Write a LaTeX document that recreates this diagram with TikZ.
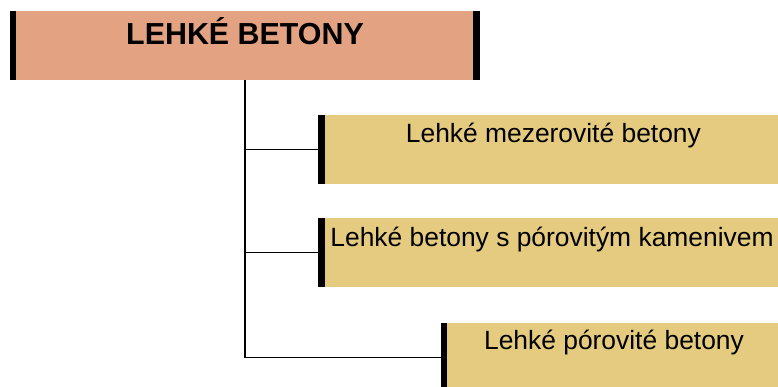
\documentclass[tikz,border=0pt]{standalone}
\usepackage{fontspec}
\setmainfont{Liberation Sans}
\definecolor{titlefill}{HTML}{E3A282}
\definecolor{subfill}{HTML}{E5CB7F}
\begin{document}
\begin{tikzpicture}[x=1pt,y=-1pt,
  titlebox/.style={fill=titlefill, draw=none, minimum width=463pt, minimum height=69pt, anchor=north west, inner sep=0pt},
  subbox/.style={fill=subfill, draw=none, minimum height=68.5pt, anchor=north west, inner sep=0pt},
  bar/.style={line width=6.5pt, draw=black},
  conn/.style={line width=1.7pt, draw=black},
  titletext/.style={anchor=base, inner sep=0pt, font=\fontsize{30.4}{34}\selectfont\bfseries},
  subtext/.style={anchor=base, inner sep=0pt, font=\fontsize{26.4}{30}\selectfont}]
\useasboundingbox (0,0) rectangle (778,387);
\node[titlebox] (top) at (13,11) {};
\node[subbox, minimum width=460pt] (b1) at (321.7,115) {};
\node[subbox, minimum width=460pt] (b2) at (321.7,218) {};
\node[subbox, minimum width=340pt] (b3) at (444,323) {};
% connectors
\draw[conn] (top.south) |- (b3.west);
\draw[conn] (top.south) |- (b1.west);
\draw[conn] (top.south) |- (b2.west);
% bars
\draw[bar] (top.north west) -- (top.south west);
\draw[bar] (top.north east) -- (top.south east);
\draw[bar] (b1.north west) -- (b1.south west);
\draw[bar] (b2.north west) -- (b2.south west);
\draw[bar] (b3.north west) -- (b3.south west);
% texts
\node[titletext] (t0) at (245,44.5) {LEHKÉ BETONY};
\node[subtext] (t1) at (553.4,142.5) {Lehké mezerovité betony};
\node[subtext] (t2) at (552,246.2) {Lehké betony s pórovitým kamenivem};
\node[subtext] (t3) at (614,349.9) {Lehké pórovité betony};
\end{tikzpicture}
\end{document}
